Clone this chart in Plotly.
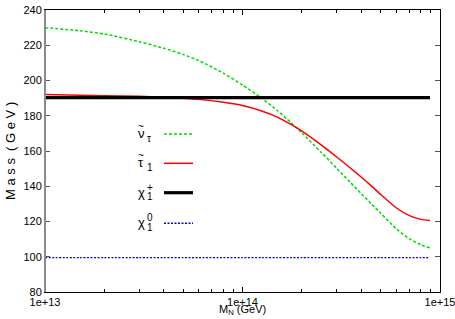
import plotly.graph_objects as go

# ---- data ----
mn = [1e13, 1.5e13, 2e13, 3e13, 4e13, 5e13, 6e13, 8e13, 1e14, 1.25e14, 1.5e14,
      1.75e14, 2e14, 2.5e14, 3e14, 3.5e14, 4e14, 4.5e14, 5e14, 6e14, 7e14, 8e14, 8.9e14]
snu_tau = [230, 228.2, 226.4, 222, 218.3, 214.8, 211.3, 204.2, 197.4, 190.0, 183.0,
           176.3, 170.2, 159.3, 150.2, 142.4, 135.7, 129.9, 124.8, 115.9, 110.2, 106.8, 105.0]
stau_1 = [192.0, 191.7, 191.4, 191.0, 190.6, 190.0, 189.3, 187.6, 185.8, 182.7, 179.2,
          175.2, 171.3, 163.5, 156.6, 150.5, 145.1, 140.1, 135.4, 127.8, 123.3, 121.2, 120.5]
chi_plus = [190.3] * len(mn)
chi_zero = [99.5] * len(mn)

x_tickvals = [1e13, 1e14, 1e15]
x_ticktext = ["1e+13", "1e+14", "1e+15"]
x_minor = [m * 10 ** e for e in (13, 14) for m in range(2, 10)]
y_tickvals = [80, 100, 120, 140, 160, 180, 200, 220, 240]

# legend pieces: base letter, has tilde, superscript, subscript
leg_base = ["ν", "τ", "χ", "χ"]
leg_tilde = [True, True, False, False]
leg_sup = ["", "", "+", "0"]
leg_sub = ["τ", "1", "1", "1"]
colors = ["#00dd00", "#ff0000", "#000000", "#0000dd"]
widths = [1.5, 1.5, 3.2, 1.4]
dashes = ["3px,2px", "solid", "solid", "2px,1.5px"]
series = [snu_tau, stau_1, chi_plus, chi_zero]

# plot area in pixels (for placing legend / titles)
L, R, T, B = 45, 440, 10, 292
def px(x):
    return (x - L) / (R - L)
def py(y):
    return (B - y) / (B - T)

fig = go.Figure()
for ys, c, w, d in zip(series, colors, widths, dashes):
    fig.add_trace(go.Scatter(x=mn, y=ys, mode="lines",
                             line=dict(color=c, width=w, dash=d, shape="spline", smoothing=0.6),
                             showlegend=False))

fnt = "Liberation Sans, Arial"
leg_y = [134, 163.3, 192.7, 223.3]
for base, tl, sp, sb, c, w, d, yy in zip(leg_base, leg_tilde, leg_sup, leg_sub,
                                         colors, widths, dashes, leg_y):
    fig.add_annotation(x=px(141), y=py(yy - 0.5), xref="paper", yref="paper", text=base,
                       showarrow=False, xanchor="center", yanchor="middle",
                       font=dict(family=fnt, size=13, color="black"))
    if tl:
        fig.add_annotation(x=px(141), y=py(yy - 8), xref="paper", yref="paper", text="~",
                           showarrow=False, xanchor="center", yanchor="middle",
                           font=dict(family=fnt, size=10, color="black"))
    if sp:
        fig.add_annotation(x=px(145), y=py(yy - 5.5), xref="paper", yref="paper", text=sp,
                           showarrow=False, xanchor="left", yanchor="middle",
                           font=dict(family=fnt, size=10, color="black"))
    fig.add_annotation(x=px(145), y=py(yy + 4), xref="paper", yref="paper", text=sb,
                       showarrow=False, xanchor="left", yanchor="middle",
                       font=dict(family=fnt, size=10, color="black"))
    fig.add_shape(type="line", xref="paper", yref="paper", x0=px(164), x1=px(193),
                  y0=py(yy), y1=py(yy), line=dict(color=c, width=w, dash=d))

# axis titles
fig.add_annotation(x=px(242.5), y=py(310), xref="paper", yref="paper",
                   text="M<sub>N</sub> (GeV)", showarrow=False, xanchor="center", yanchor="middle",
                   font=dict(family=fnt, size=11, color="black"))
fig.add_annotation(x=px(10), y=py(151), xref="paper", yref="paper",
                   text="M a s s  ( G e V )", showarrow=False, textangle=-90,
                   xanchor="center", yanchor="middle",
                   font=dict(family=fnt, size=13, color="black"))

# grey left border as in the reference
fig.add_shape(type="line", xref="paper", yref="paper", x0=0, x1=0, y0=0, y1=1,
              line=dict(color="#8a8a8a", width=2), layer="above")

fig.update_layout(
    width=455, height=319,
    margin=dict(l=L, r=455 - R, t=T, b=319 - B),
    paper_bgcolor="white", plot_bgcolor="white",
    font=dict(family=fnt, size=11, color="black"),
)
fig.update_xaxes(type="log", range=[12.99999, 15.00001], tickvals=x_tickvals, ticktext=x_ticktext,
                 ticks="inside", ticklen=5, tickcolor="black", showgrid=False, zeroline=False,
                 showline=True, linecolor="black", linewidth=1, mirror="ticks",
                 ticklabeloverflow="allow", automargin=False,
                 minor=dict(tickvals=x_minor, ticks="inside", ticklen=3, tickcolor="black"))
fig.update_yaxes(range=[80, 240], tickvals=y_tickvals, ticks="inside", ticklen=5,
                 tickcolor="#555", showgrid=False, zeroline=False,
                 showline=True, linecolor="black", linewidth=1, mirror="ticks", automargin=False)

fig.write_html("out.html", config={"displayModeBar": False},
               post_script="document.body.style.margin='0';document.body.style.overflow='hidden';")
